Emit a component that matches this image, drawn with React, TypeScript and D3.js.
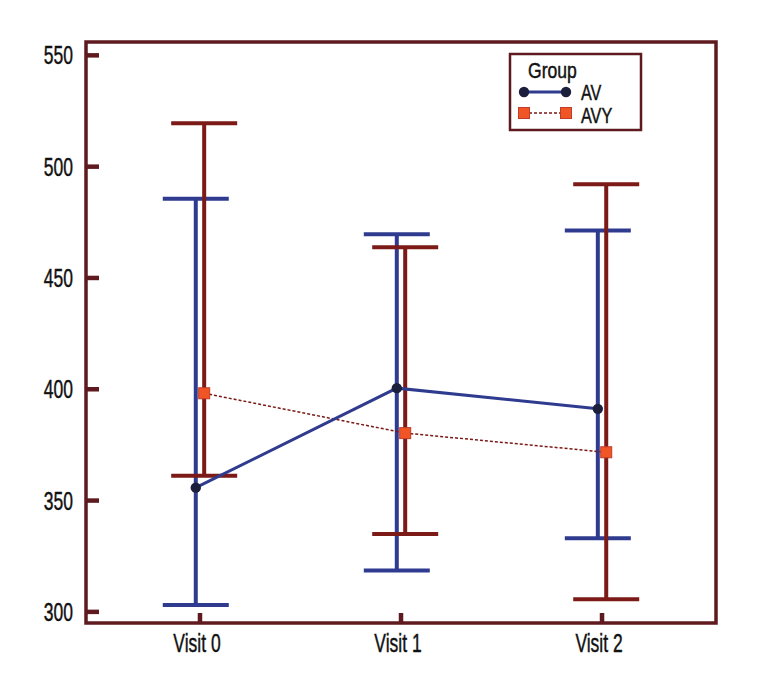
import React from "react";
import * as d3 from "d3";

const visits = ["Visit 0", "Visit 1", "Visit 2"];
const yTicks = [300, 350, 400, 450, 500, 550];

const avMean = [355.8, 400.5, 391.2];
const avLower = [303.1, 318.6, 333.1];
const avUpper = [485.6, 469.6, 471.3];

const avyMean = [398.2, 380.3, 371.7];
const avyLower = [361.1, 335.0, 305.7];
const avyUpper = [519.5, 463.8, 492.1];

const seriesNames = ["AV", "AVY"];
const legendTitle = "Group";

const W = 768;
const H = 696;
const frame = { left: 86, right: 716, top: 42, bottom: 623 };

const FRAME = "#5e1a1f";
const MAROON = "#7b1a16";
const BLUE = "#2f3b8f";
const DOT = "#1b1f3b";
const SQ = "#f05526";
const SQS = "#c23a2a";
const FONT = "'Liberation Sans', Arial, sans-serif";

export default function App() {
  const x = d3
    .scalePoint<string>()
    .domain(visits)
    .range([frame.left, frame.right])
    .padding(0.567);
  const y = d3.scaleLinear().domain([295, 556]).range([frame.bottom, frame.top]);

  const off = 4.2;
  const capHalf = 33;

  const avPts = visits.map((v, i) => [(x(v) as number) - off, y(avMean[i])] as [number, number]);
  const avyPts = visits.map((v, i) => [(x(v) as number) + off, y(avyMean[i])] as [number, number]);
  const line = d3.line();

  const errBar = (cx: number, lo: number, hi: number, color: string, key: string) => (
    <g key={key} stroke={color} strokeWidth={4} fill="none">
      <line x1={cx} x2={cx} y1={y(lo)} y2={y(hi)} />
      <line x1={cx - capHalf} x2={cx + capHalf} y1={y(lo)} y2={y(lo)} />
      <line x1={cx - capHalf} x2={cx + capHalf} y1={y(hi)} y2={y(hi)} />
    </g>
  );

  const condensedText = (
    tx: number,
    ty: number,
    s: string,
    anchor: "start" | "middle" | "end",
    size: number,
    key: string,
    scale = 0.7
  ) => (
    <text
      key={key}
      transform={`translate(${tx},${ty}) scale(${scale},1)`}
      textAnchor={anchor}
      fontSize={size}
      fontFamily={FONT}
      fill="#111"
      stroke="#111"
      strokeWidth={0.45}
    >
      {s}
    </text>
  );

  return (
    <svg
      width={W}
      height={H}
      style={{ position: "absolute", left: 0, top: 0, background: "#fff" }}
    >
      {/* error bars */}
      {visits.map((v, i) => errBar((x(v) as number) - off, avLower[i], avUpper[i], BLUE, "b" + i))}
      {visits.map((v, i) => errBar((x(v) as number) + off, avyLower[i], avyUpper[i], MAROON, "m" + i))}

      {/* lines */}
      <path d={line(avyPts) || ""} fill="none" stroke={MAROON} strokeWidth={1.5} strokeDasharray="3,2" />
      <path d={line(avPts) || ""} fill="none" stroke={BLUE} strokeWidth={3} />

      {avyPts.map((p, i) => (
        <rect key={"s" + i} x={p[0] - 5.5} y={p[1] - 5.5} width={11} height={11} fill={SQ} stroke={SQS} strokeWidth={1} />
      ))}
      {avPts.map((p, i) => (
        <circle key={"c" + i} cx={p[0]} cy={p[1]} r={5.2} fill={DOT} />
      ))}

      {/* frame */}
      <rect
        x={frame.left}
        y={frame.top}
        width={frame.right - frame.left}
        height={frame.bottom - frame.top}
        fill="none"
        stroke={FRAME}
        strokeWidth={3.5}
      />

      {/* y ticks */}
      {yTicks.map((t) => (
        <g key={"yt" + t}>
          <line x1={frame.left} x2={frame.left + 13} y1={y(t)} y2={y(t)} stroke={FRAME} strokeWidth={4.5} />
          {condensedText(73, y(t) + 9, String(t), "end", 25, "ytl" + t)}
        </g>
      ))}

      {/* x ticks */}
      {visits.map((v) => (
        <g key={"xt" + v}>
          <line x1={x(v) as number} x2={x(v) as number} y1={frame.bottom} y2={frame.bottom - 10} stroke={FRAME} strokeWidth={4.5} />
          {condensedText((x(v) as number) - 3, 652, v, "middle", 25, "xtl" + v)}
        </g>
      ))}

      {/* legend */}
      <g>
        <rect x={510} y={54} width={131} height={76} fill="#fff" stroke={FRAME} strokeWidth={2.5} />
        {condensedText(528, 78, legendTitle, "start", 22.5, "lt", 0.78)}
        <line x1={524} x2={566} y1={92} y2={92} stroke={BLUE} strokeWidth={3} />
        <circle cx={524} cy={92} r={5.2} fill={DOT} />
        <circle cx={566} cy={92} r={5.2} fill={DOT} />
        {condensedText(581, 100, seriesNames[0], "start", 22.5, "l0", 0.72)}
        <line x1={524} x2={566} y1={113} y2={113} stroke={MAROON} strokeWidth={1.5} strokeDasharray="3,2" />
        <rect x={518.5} y={107.5} width={11} height={11} fill={SQ} stroke={SQS} strokeWidth={1} />
        <rect x={560.5} y={107.5} width={11} height={11} fill={SQ} stroke={SQS} strokeWidth={1} />
        {condensedText(581, 123, seriesNames[1], "start", 22.5, "l1", 0.72)}
      </g>
    </svg>
  );
}
